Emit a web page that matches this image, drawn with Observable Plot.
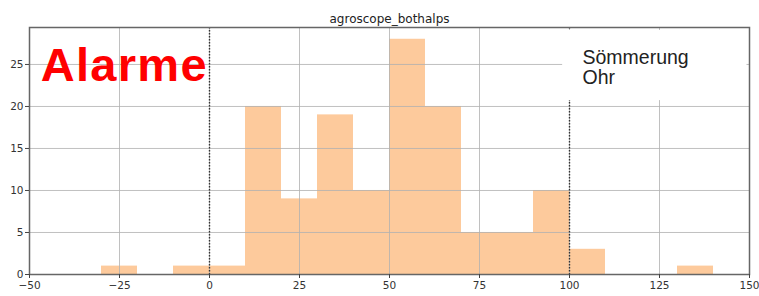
<!DOCTYPE html>
<html>
<head>
<meta charset="utf-8">
<script src="https://cdn.jsdelivr.net/npm/d3@7"></script>
<script src="https://cdn.jsdelivr.net/npm/@observablehq/plot@0.6"></script>
<style>
  html, body { margin: 0; padding: 0; background: #fff; }
  .alarm text { letter-spacing: 1.3px; }
</style>
</head>
<body>
<div id="chart"></div>
<script>
// Histogram bins (lower edge, upper edge, count)
const binLo  = [-30, -10, 0, 10, 20, 30, 40, 50, 60, 70, 80, 90, 100, 130];
const binHi  = [-20,   0, 10, 20, 30, 40, 50, 60, 70, 80, 90, 100, 110, 140];
const counts = [  1,   1,  1, 20,  9, 19, 10, 28, 20,  5,  5, 10,   3,   1];

const xTicks = [-50, -25, 0, 25, 50, 75, 100, 125, 150];
const yTicks = [0, 5, 10, 15, 20, 25];
const alarmLines = [0, 100];

const title = "agroscope_bothalps";
const alarmLabel = "Alarme";
const boxLines = ["Sömmerung", "Ohr"];

// annotation placement in data units
const boxRect = [{x1: 98.1, x2: 149.3, y1: 20.7, y2: 29.05}];
const boxText = [{x: 103.6, y: 25.1, t: boxLines[0]}, {x: 103.6, y: 22.7, t: boxLines[1]}];
const alarmPos = [{x: -46.9, y: 23.0, t: alarmLabel}];

const bins = binLo.map((lo, i) => ({x1: lo, x2: binHi[i], y: counts[i]}));

const chart = Plot.plot({
  width: 759,
  height: 296,
  marginLeft: 29,
  marginRight: 10,
  marginTop: 27,
  marginBottom: 22,
  style: {fontFamily: "DejaVu Sans", fontSize: "10px", color: "#333", background: "#fff"},
  x: {domain: [-50, 150], label: null},
  y: {domain: [0, 29.4], label: null},
  marks: [
    Plot.rectY(bins, {x1: "x1", x2: "x2", y: "y", fill: "#fdca9c", inset: 0}),
    Plot.ruleX(xTicks, {stroke: "#b0b0b0", strokeWidth: 1, strokeOpacity: 0.8}),
    Plot.ruleY(yTicks, {stroke: "#b0b0b0", strokeWidth: 1, strokeOpacity: 0.8}),
    Plot.ruleX(alarmLines, {stroke: "#333", strokeWidth: 1.4, strokeDasharray: "1.5,1.5"}),
    Plot.rect(boxRect, {x1: "x1", x2: "x2", y1: "y1", y2: "y2", fill: "#fff"}),
    Plot.text(boxText, {x: "x", y: "y", text: "t", textAnchor: "start", lineAnchor: "bottom",
      fontFamily: "Liberation Sans", fontSize: 19.5, fill: "#222"}),
    Plot.text(alarmPos, {x: "x", y: "y", text: "t", textAnchor: "start", lineAnchor: "bottom",
      fontFamily: "Liberation Sans", fontWeight: "bold", fontSize: 47, fill: "#ff0000", className: "alarm"}),
    Plot.text([title], {frameAnchor: "top", dy: -13, text: d => d, fontFamily: "DejaVu Sans", fontSize: 12, fill: "#222"}),
    Plot.frame({stroke: "#666", strokeWidth: 1.5}),
    Plot.axisX({ticks: xTicks, tickSize: 4, tickPadding: 3, fontSize: 10.5, stroke: "#444"}),
    Plot.axisY({ticks: yTicks, tickSize: 4, tickPadding: 2, fontSize: 10.5, stroke: "#444"})
  ]
});
document.getElementById("chart").appendChild(chart);
</script>
</body>
</html>
